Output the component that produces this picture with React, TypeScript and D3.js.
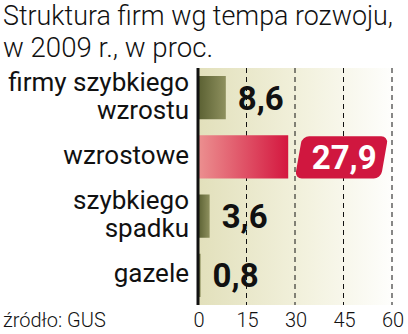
import React from "react";
import * as d3 from "d3";

const categories: string[][] = [
  ["firmy szybkiego", "wzrostu"],
  ["wzrostowe"],
  ["szybkiego", "spadku"],
  ["gazele"],
];
const values: number[] = [8.6, 27.9, 3.6, 0.8];
const valueLabels: string[] = ["8,6", "27,9", "3,6", "0,8"];
const highlight: boolean[] = [false, true, false, false];
const ticks: number[] = [0, 15, 30, 45, 60];
const titleLines: string[] = ["Struktura firm wg tempa rozwoju,", "w 2009 r., w proc."];
const source = "źródło: GUS";

const W = 408;
const H = 334;

export default function App() {
  const x = d3.scaleLinear().domain([0, 60]).range([198, 392]);
  const y = d3
    .scaleBand<number>()
    .domain(values.map((_, i) => i))
    .range([68, 305])
    .paddingInner(0.27)
    .paddingOuter(0.135);
  const font = "Roboto, 'Noto Sans', sans-serif";

  return (
    <svg
      width={W}
      height={H}
      style={{ position: "absolute", left: 0, top: 0, background: "#fff" }}
    >
      <defs>
        <linearGradient id="panel" x1="0" x2="1" y1="0" y2="0">
          <stop offset="0%" stopColor="#e2e0bb" />
          <stop offset="55%" stopColor="#f3f2df" />
          <stop offset="100%" stopColor="#ffffff" />
        </linearGradient>
        <linearGradient id="olive" x1="0" x2="1" y1="0" y2="0">
          <stop offset="0%" stopColor="#5a6032" />
          <stop offset="100%" stopColor="#8e905e" />
        </linearGradient>
        <linearGradient id="red" x1="0" x2="1" y1="0" y2="0">
          <stop offset="0%" stopColor="#ec9090" />
          <stop offset="100%" stopColor="#d4173f" />
        </linearGradient>
      </defs>

      {titleLines.map((t, i) => (
        <text
          key={i}
          x={3}
          y={25 + i * 32}
          fontFamily={font}
          fontWeight={300}
          fontSize={27}
          fill="#111"
          textLength={i === 0 ? 390 : 210}
          lengthAdjust="spacingAndGlyphs"
        >
          {t}
        </text>
      ))}

      <rect x={x(0)} y={68} width={400 - x(0)} height={305 - 68} fill="url(#panel)" />

      {ticks.slice(1).map((t) => (
        <line
          key={t}
          x1={x(t)}
          x2={x(t)}
          y1={68}
          y2={305}
          stroke="#111"
          strokeWidth={1}
          strokeDasharray="5,4"
        />
      ))}

      {values.map((v, i) => {
        const by = y(i)!;
        const bh = y.bandwidth();
        const cy = by + bh / 2;
        const xe = x(v);
        return (
          <g key={i}>
            <rect
              x={x(0)}
              y={by}
              width={xe - x(0)}
              height={bh}
              fill={highlight[i] ? "url(#red)" : "url(#olive)"}
            />
            {highlight[i] ? (
              <g>
                <g transform={`translate(${xe + 14},${by + 1}) skewX(-10)`}>
                  <rect x={0} y={0} width={86} height={bh - 1} rx={7} fill="#d0173f" />
                </g>
                <text
                  x={xe + 56}
                  y={cy + 12}
                  textAnchor="middle"
                  fontFamily={font}
                  fontWeight={700}
                  fontSize={33}
                  fill="#fff"
                >
                  {valueLabels[i]}
                </text>
              </g>
            ) : (
              <text
                x={xe + 12}
                y={cy + 12}
                fontFamily={font}
                fontWeight={700}
                fontSize={33}
                fill="#111"
              >
                {valueLabels[i]}
              </text>
            )}
            {categories[i].map((line, j) => {
              const n = categories[i].length;
              const ly = cy + 7 + (j - (n - 1) / 2) * 28;
              return (
                <text
                  key={j}
                  x={189}
                  y={ly}
                  textAnchor="end"
                  fontFamily={font}
                  fontSize={26}
                  fill="#111"
                >
                  {line}
                </text>
              );
            })}
          </g>
        );
      })}

      <line x1={x(0)} x2={x(0)} y1={68} y2={305} stroke="#111" strokeWidth={3} />

      {ticks.map((t) => (
        <text
          key={t}
          x={x(t) + 1}
          y={327}
          textAnchor="middle"
          fontFamily={font}
          fontWeight={300}
          fontSize={20}
          fill="#111"
        >
          {t}
        </text>
      ))}

      <text x={3} y={327} fontFamily={font} fontWeight={300} fontSize={20} fill="#111">
        {source}
      </text>
    </svg>
  );
}
